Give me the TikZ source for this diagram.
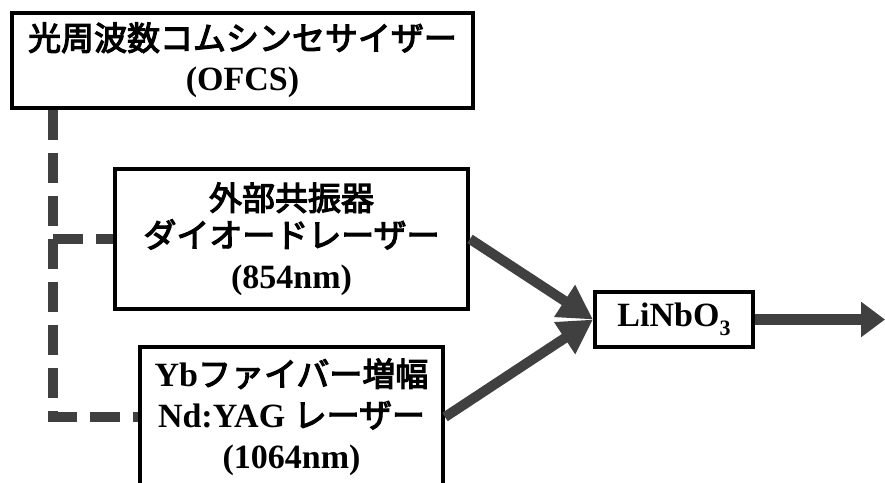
\documentclass[tikz,border=0pt]{standalone}
\usepackage{fontspec}
\setmainfont{Liberation Serif}
\newfontfamily\jp{Noto Sans CJK JP}[Scale=0.97, BoldFont={*}, BoldFeatures={FakeBold=3.5}]
\usetikzlibrary{arrows.meta}
\definecolor{connc}{HTML}{404040}
\tikzset{
  box/.style={draw=black, line width=4pt, fill=white, align=center, inner sep=0pt,
    font=\bfseries\fontsize{34}{41}\selectfont},
  flow/.style={draw=connc, line width=10pt, -{Triangle[length=34pt,width=36pt]}},
  outflow/.style={draw=connc, line width=11pt, -{Triangle[length=24pt,width=34pt]}},
  dashl/.style={draw=connc, line width=10pt, dash pattern=on 30pt off 13pt}
}
\begin{document}
\begin{tikzpicture}[x=1pt,y=-1pt]
\useasboundingbox (0,0) rectangle (885,482);
\clip (0,0) rectangle (885,482);
\node[box, minimum width=461pt, minimum height=95pt] (ofcs) at (242.5,60)
  {\raisebox{-3pt}{\jp 光周波数コムシンセサイザー}\\[2pt](OFCS)};
\node[box, minimum width=353pt, minimum height=140pt] (ecdl) at (291.5,239)
  {{\jp 外部共振器}\\[-4pt]{\jp ダイオードレーザー}\\(854nm)};
\node[box, minimum width=303pt, minimum height=140pt] (yb) at (291.5,417)
  {Yb{\jp ファイバー増幅}\\Nd:YAG {\jp レーザー}\\(1064nm)};
\node[box, minimum width=158pt, minimum height=55pt] (lin) at (674,319.5)
  {LiNbO{\raisebox{-0.25em}{\fontsize{22}{22}\selectfont 3}}};
\coordinate (bus) at (53,0);
\coordinate (outend) at (885,319.5);
\draw[dashl] (ofcs.south -| bus) |- (yb.west);
\draw[dashl] (bus |- ecdl.west) -- (ecdl.west);
\draw[flow] (ecdl.east) -- (lin.west);
\draw[flow] (yb.east) -- (lin.west);
\draw[outflow] (lin.east) -- (outend);
\end{tikzpicture}
\end{document}
